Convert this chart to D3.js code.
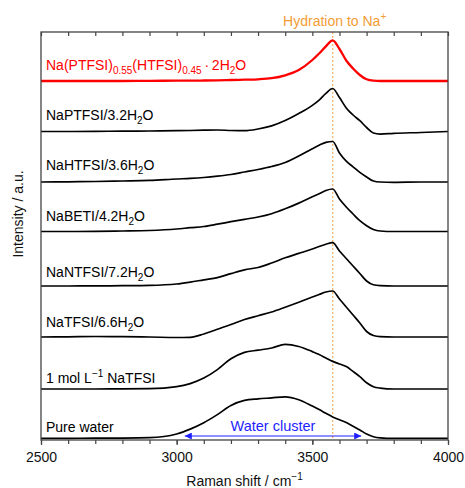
<!DOCTYPE html>
<html>
<head>
<meta charset="utf-8">
<script src="https://cdn.jsdelivr.net/npm/d3@7"></script>
<style>
  body { margin: 0; background: #fff; }
  text { font-family: "Liberation Sans", Arial, sans-serif; }
</style>
</head>
<body>
<div id="chart"></div>
<script>
// Raman shift grid (cm-1)
var shifts = [2500, 2600, 2700, 2800, 2900, 3000, 3050, 3100, 3150, 3200, 3250, 3300, 3350, 3400, 3450,
  3500, 3525, 3550, 3575, 3600, 3625, 3650, 3675, 3700, 3725, 3750, 3800, 3900, 4000];

// intensities (a.u.) per sample
var naPtfsiHtfsi = [0, 0, 0, 0, 0.2, 0.3, 0.4, 0.5, 0.7, 1.0, 1.3, 1.7, 2.8, 5.7, 11, 21, 27.5, 34.6, 40.7, 32, 20.5, 12.5, 6, 1.7, 0.3, 0, 0, 0, 0];
var naPtfsi = [0, 0, 0.2, 0.3, 0.5, 0.8, 1.0, 1.3, 1.5, 1.0, 0.8, 2.5, 5.6, 10.9, 17.9, 26.1, 31.4, 38.2, 43, 34, 23.6, 16.5, 10.8, 4, -1.5, -2.6, -1.8, -1, 0];
var naHtfsi = [0, 0.2, 0.5, 1.0, 1.6, 3, 3.6, 4.5, 5.8, 7.5, 10, 12.5, 15.5, 19.5, 26, 33.3, 36.7, 39.7, 40.5, 29, 20.8, 15.2, 9.6, 5, 1, 0, -0.3, 0, 0];
var naBeti = [0, 0, 0.2, 0.5, 1.0, 2.5, 3.8, 5, 7.3, 9.8, 12.2, 14.5, 17.8, 22.7, 28.4, 34.7, 37.7, 41, 42.5, 32.5, 24.5, 17.5, 10.8, 5.8, 2, 0.5, 0, 0, 0];
var naNtfsi = [0, 0, 0.1, 0.3, 0.6, 2.0, 3.9, 6.2, 8.4, 12.4, 16.2, 18.5, 23, 28.2, 32.6, 37, 39.5, 41.8, 43.3, 35, 27.5, 20, 12.5, 5, 1.2, 0.3, 0, 0, 0];
var naTfsi = [0, 0.2, 0.5, 0.3, 0, -0.5, -0.3, 3, 7.8, 12.5, 17.5, 21.3, 25, 29.8, 34.8, 40, 42.5, 45, 46, 38, 30, 22, 14, 5.5, 1.5, 0.3, 0, 0, 0];
var oneMolar = [0, 0, 0, 0.1, 0.3, 2.3, 5.4, 10.9, 19.4, 30.2, 36.6, 38.8, 41, 44.6, 42.5, 37.4, 34.5, 31, 27.6, 25, 22.4, 17.6, 12.4, 6.2, 2.3, 0.9, 0, 0, 0];
var pureWater = [0, 0, 0.1, 0.2, 0.6, 4.3, 9.2, 15.6, 23.7, 32.8, 37.9, 39.4, 40.4, 41.5, 38.6, 32.2, 28.7, 25, 21.4, 18.5, 15.8, 12.1, 8.4, 4.3, 1.6, 0.5, 0, 0, 0];

// vertical offsets of each trace (a.u.)
var offsets = [359, 308.5, 258, 208.5, 154, 103, 51, 1.7];
var seriesLabels = [
  "Na(PTFSI)_{0.55}(HTFSI)_{0.45}\u2009\u00b7\u20092H_{2}O",
  "NaPTFSI/3.2H_{2}O",
  "NaHTFSI/3.6H_{2}O",
  "NaBETI/4.2H_{2}O",
  "NaNTFSI/7.2H_{2}O",
  "NaTFSI/6.6H_{2}O",
  "1 mol L^{\u22121} NaTFSI",
  "Pure water"
];
var seriesData = [naPtfsiHtfsi, naPtfsi, naHtfsi, naBeti, naNtfsi, naTfsi, oneMolar, pureWater];
var seriesColors = ["#ff0000", "#000", "#000", "#000", "#000", "#000", "#000", "#000"];

var xTicks = [2500, 3000, 3500, 4000];
var hydrationShift = 3575;
var waterCluster = [3030, 3680];

var svgWidth = 465;
var svgHeight = 488;
var margin = { top: 32, right: 17, bottom: 48, left: 41 };
var width = svgWidth - margin.left - margin.right;
var height = svgHeight - margin.top - margin.bottom;

var svg = d3.select("#chart")
  .append("svg")
  .attr("width", svgWidth)
  .attr("height", svgHeight);

var chartGroup = svg.append("g")
  .attr("transform", `translate(${margin.left}, ${margin.top})`);

var xScale = d3.scaleLinear().domain([2500, 4000]).range([0, width]);
var yScale = d3.scaleLinear().domain([0, 408]).range([height, 0]);

// write "a_{sub}" / "a^{sup}" as tspans
function richText(sel, str, size) {
  var parts = str.split(/([_^]\{[^}]*\})/).filter(function(p) { return p.length; });
  var shift = 0;
  parts.forEach(function(p) {
    var t = sel.append("tspan");
    var want = 0;
    if (p[0] === "_") { want = 4; t.style("font-size", (size - 4) + "px"); p = p.slice(2, -1); }
    else if (p[0] === "^") { want = -6; t.style("font-size", (size - 4) + "px"); p = p.slice(2, -1); }
    t.attr("dy", want - shift).text(p);
    shift = want;
  });
}

// hydration line
chartGroup.append("line")
  .attr("x1", xScale(hydrationShift)).attr("x2", xScale(hydrationShift))
  .attr("y1", 0).attr("y2", height)
  .attr("stroke", "#f9b56e")
  .attr("stroke-width", 1.3)
  .attr("stroke-dasharray", "2,2");

var hyd = svg.append("text")
  .attr("x", margin.left + xScale(hydrationShift) + 2)
  .attr("y", 26)
  .attr("text-anchor", "middle")
  .attr("fill", "#f39c34")
  .style("font-size", "14px");
richText(hyd, "Hydration to Na^{+}", 14);

// traces
var line = d3.line().curve(d3.curveMonotoneX);
seriesData.forEach(function(vals, i) {
  var pts = shifts.map(function(s, j) { return [xScale(s), yScale(vals[j] + offsets[i])]; });
  chartGroup.append("path")
    .attr("d", line(pts))
    .attr("fill", "none")
    .attr("stroke", seriesColors[i])
    .attr("stroke-width", i === 0 ? 2.3 : 1.7)
    .attr("stroke-linejoin", "round");
});

// labels
var labelDy = [11, 11.5, 12, 10.5, 9, 10, 6, 6.3];
seriesLabels.forEach(function(lab, i) {
  var t = chartGroup.append("text")
    .attr("x", 5)
    .attr("y", yScale(offsets[i]) - labelDy[i])
    .attr("fill", seriesColors[i])
    .style("font-size", "14px");
  richText(t, lab, 14);
});

// water cluster arrow
svg.append("defs").append("marker")
  .attr("id", "arrow")
  .attr("viewBox", "0 0 10 10")
  .attr("refX", 10).attr("refY", 5)
  .attr("markerWidth", 8).attr("markerHeight", 7)
  .attr("markerUnits", "userSpaceOnUse")
  .attr("orient", "auto-start-reverse")
  .append("path")
  .attr("d", "M0,0L10,5L0,10Z")
  .attr("fill", "#1f1fff");

chartGroup.append("line")
  .attr("x1", xScale(waterCluster[0])).attr("x2", xScale(waterCluster[1]))
  .attr("y1", height - 4).attr("y2", height - 4)
  .attr("stroke", "#1f1fff")
  .attr("stroke-width", 1.2)
  .attr("marker-start", "url(#arrow)")
  .attr("marker-end", "url(#arrow)");

chartGroup.append("text")
  .attr("x", xScale(d3.mean(waterCluster)))
  .attr("y", height - 9)
  .attr("text-anchor", "middle")
  .attr("fill", "#1f1fff")
  .style("font-size", "14.5px")
  .text("Water cluster");

// frame and ticks
chartGroup.append("rect")
  .attr("width", width).attr("height", height)
  .attr("fill", "none")
  .attr("stroke", "#444")
  .attr("stroke-width", 1.3);

var bottomAxis = d3.axisBottom(xScale).tickValues(xTicks).tickSize(5).tickFormat(d3.format("d"));
var bottomMinor = d3.axisBottom(xScale).ticks(15).tickSize(4).tickFormat("");
var topMinor = d3.axisTop(xScale).ticks(15).tickSize(-4).tickFormat("");

var bx = chartGroup.append("g").attr("transform", `translate(0, ${height})`).call(bottomMinor);
var bx2 = chartGroup.append("g").attr("transform", `translate(0, ${height})`).call(bottomAxis);
var tx = chartGroup.append("g").call(topMinor);
[bx, bx2, tx].forEach(function(g) {
  g.select(".domain").remove();
  g.selectAll("line").attr("stroke", "#444").attr("stroke-width", 1.2);
});
bx2.selectAll("text")
  .attr("dy", null)
  .attr("y", 21.5)
  .attr("fill", "#111")
  .style("font-family", "Liberation Sans, Arial, sans-serif")
  .style("font-size", "14px");

// axis titles
var xt = svg.append("text")
  .attr("x", margin.left + width / 2)
  .attr("y", 485.5)
  .attr("text-anchor", "middle")
  .attr("fill", "#111")
  .style("font-size", "14px");
richText(xt, "Raman shift / cm^{\u22121}", 14);

svg.append("text")
  .attr("transform", "translate(23, 214) rotate(-90)")
  .attr("text-anchor", "middle")
  .attr("fill", "#111")
  .style("font-size", "14px")
  .text("Intensity / a.u.");
</script>
</body>
</html>
